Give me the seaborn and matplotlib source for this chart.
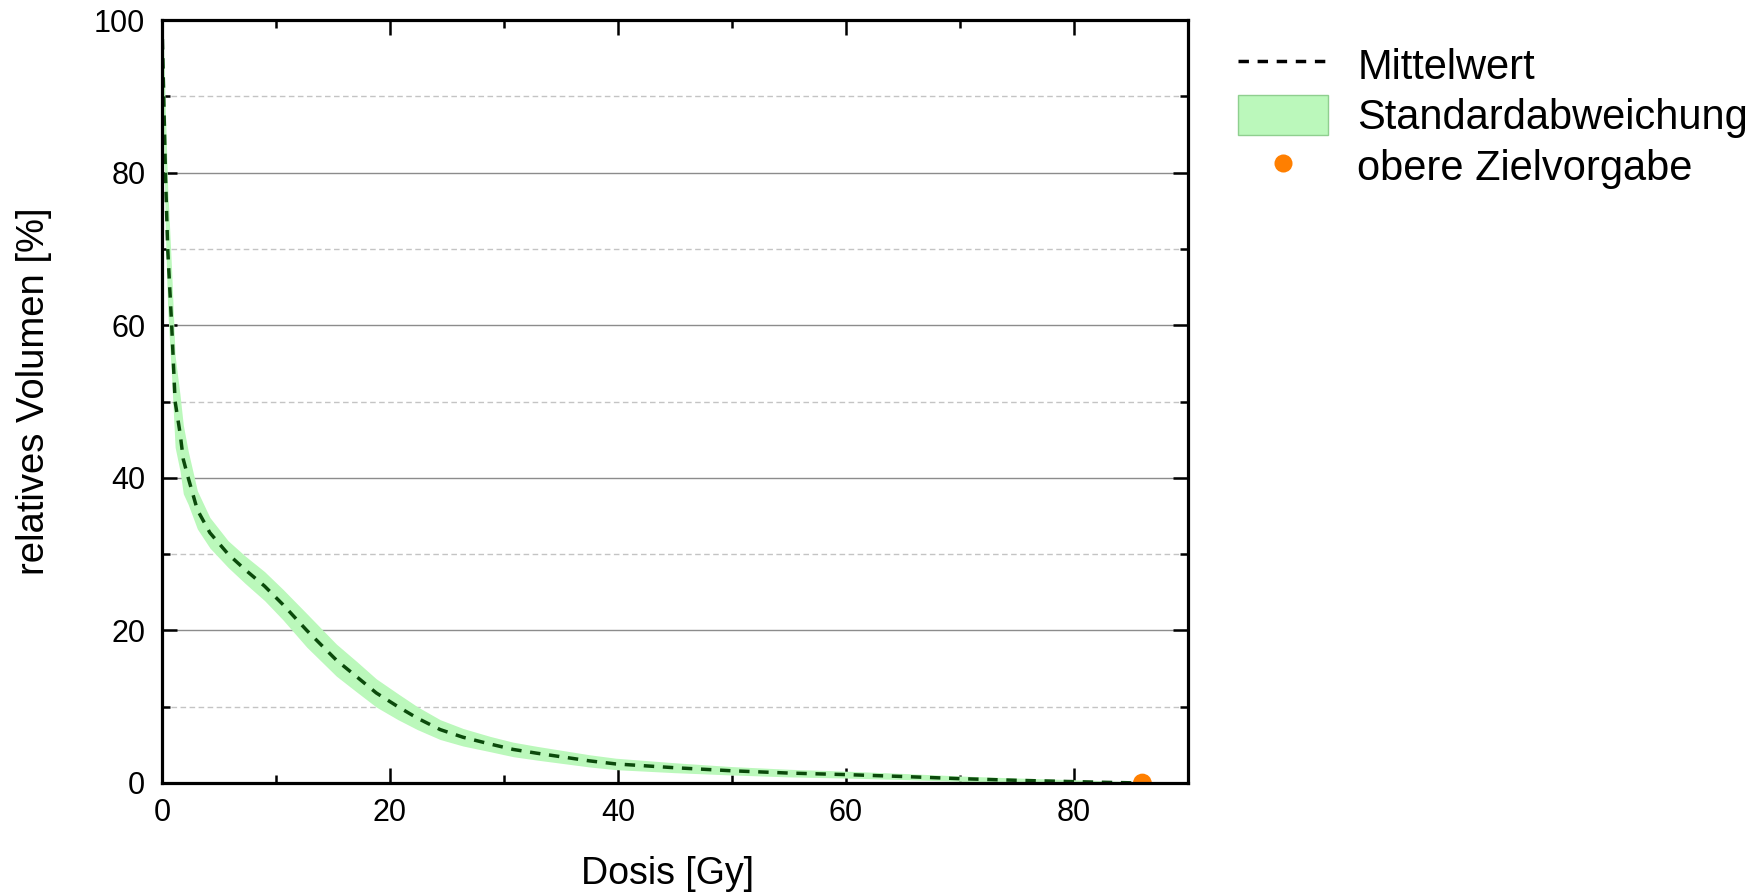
import numpy as np
import pandas as pd
import matplotlib
matplotlib.use("Agg")
import matplotlib.pyplot as plt
from matplotlib.lines import Line2D
from matplotlib.patches import Patch
from matplotlib.ticker import MultipleLocator
import seaborn as sns

# ---- data ----
dose = [0, 0.15, 0.3, 0.5, 0.85, 1.15, 1.58, 1.87, 2.3, 3.1, 4.2, 5.8, 7.3, 9.0,
        10.6, 12.7, 15.3, 17.1, 18.8, 20.7, 22.4, 24.4, 26.4, 28.8, 30.8, 32.9,
        35.2, 37.5, 39.8, 45, 50, 55, 60, 65, 70, 75, 80, 83, 86, 87.3]
mean_vol = [100, 90, 80, 70, 60, 50, 45.9, 42.4, 40, 35.8, 32.8, 30.0, 27.95, 25.8,
            23.4, 20.0, 16.1, 13.9, 11.8, 10.0, 8.5, 7.0, 6.0, 5.1, 4.4, 3.9,
            3.4, 2.9, 2.5, 2.0, 1.6, 1.3, 1.1, 0.85, 0.57, 0.35, 0.18, 0.08, 0.0, 0.0]
std_vol = [0, 6, 8, 8, 7, 6, 5, 4.5, 3.5, 2.5, 2.0, 1.75, 1.8, 1.9,
           2.0, 2.2, 2.1, 2.0, 1.85, 1.7, 1.5, 1.3, 1.15, 1.0, 0.95, 0.9,
           0.85, 0.8, 0.75, 0.65, 0.55, 0.5, 0.45, 0.4, 0.35, 0.3, 0.25, 0.2, 0.15, 0.1]
target_dose = [86.0]
target_vol = [0.0]

labels = ["Mittelwert", "Standardabweichung", "obere Zielvorgabe"]
xlabel = "Dosis [Gy]"
ylabel = "relatives Volumen [%]"

df = pd.DataFrame({"dose": dose, "mean": mean_vol, "std": std_vol})
df["lo"] = (df["mean"] - df["std"]).clip(lower=0)
df["hi"] = (df["mean"] + df["std"]).clip(upper=100)
tgt = pd.DataFrame({"dose": target_dose, "vol": target_vol})

sns.set_theme(style="white")
plt.rcParams["font.family"] = ["Liberation Sans", "DejaVu Sans"]
plt.rcParams["text.color"] = "black"
plt.rcParams["axes.labelcolor"] = "black"
plt.rcParams["xtick.color"] = "black"
plt.rcParams["ytick.color"] = "black"

LINE_C = "#0b4a0b"
FILL_C = "#bbf8bb"
ORANGE = "#ff7f00"
DASH = [3.0, 2.5]

fig = plt.figure(figsize=(17.65, 8.93), dpi=100)
ax = fig.add_axes([162 / 1765, 1 - 783 / 893, (1188 - 162) / 1765, (783 - 20) / 893])

ax.fill_between(df["dose"], df["lo"], df["hi"], color=FILL_C, lw=0, zorder=2)
sns.lineplot(data=df, x="dose", y="mean", ax=ax, color=LINE_C, lw=2.5,
             dashes=False, zorder=3, estimator=None, sort=False)
ax.lines[-1].set_dashes(DASH)
sns.scatterplot(data=tgt, x="dose", y="vol", ax=ax, color=ORANGE, s=13.5 ** 2,
                edgecolor="none", zorder=4, clip_on=True)

ax.set_xlim(0, 90)
ax.set_ylim(0, 100)
ax.xaxis.set_major_locator(MultipleLocator(20))
ax.xaxis.set_minor_locator(MultipleLocator(10))
ax.yaxis.set_major_locator(MultipleLocator(20))
ax.yaxis.set_minor_locator(MultipleLocator(10))

ax.grid(False)
ax.yaxis.grid(True, which="major", color="#8c8c8c", lw=1.0, ls="-", zorder=1)
ax.yaxis.grid(True, which="minor", color="#c4c4c4", lw=1.0, ls=(0, (4, 2.5)), zorder=1)
ax.set_axisbelow(True)

for s in ax.spines.values():
    s.set_color("black")
    s.set_linewidth(2.3)
    s.set_zorder(5)

ax.tick_params(which="both", direction="in", top=True, right=True,
               bottom=True, left=True, color="black", width=1.8)
ax.tick_params(which="major", length=11)
ax.tick_params(which="minor", length=6)
ax.tick_params(axis="y", which="major", labelsize=22, pad=12, labelcolor="black")
ax.tick_params(axis="x", which="major", labelsize=22, pad=11, labelcolor="black")

ax.set_xlabel(xlabel, fontsize=27, color="black", labelpad=20)
ax.set_ylabel(ylabel, fontsize=27.5, color="black", labelpad=30)
ax.xaxis.label.set_x(0.493)
ax.yaxis.label.set_y(0.514)

handles = [
    Line2D([0], [0], color="black", lw=2.5, dashes=DASH),
    Patch(facecolor=FILL_C, edgecolor="#8fcf8f", lw=1.0),
    Line2D([0], [0], color=ORANGE, marker="o", ls="none", markersize=13,
           markeredgecolor="none"),
]
fig.legend(handles, labels, loc="upper left",
           bbox_to_anchor=(1238 / 1765, 1 - 44 / 893), bbox_transform=fig.transFigure,
           frameon=False, fontsize=30, borderpad=0, borderaxespad=0,
           handlelength=2.16, handleheight=1.13, handletextpad=0.7,
           labelspacing=0.17)

fig.savefig("out.png", dpi=100, facecolor="white")
